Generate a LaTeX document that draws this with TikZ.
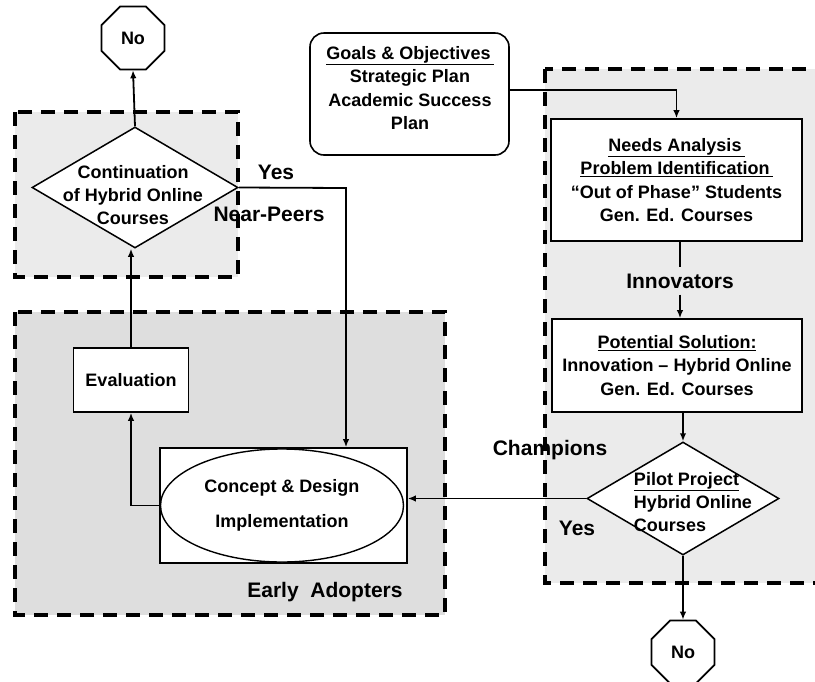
\documentclass[tikz,border=0pt]{standalone}
\usepackage{fontspec}
\setmainfont{Liberation Sans}
\usetikzlibrary{shapes.geometric,arrows.meta}
\begin{document}
\begin{tikzpicture}[x=1pt,y=-1pt,
  every node/.style={font=\bfseries\fontsize{18}{23.3}\selectfont},
  zone/.style={line width=4.5pt, dash pattern=on 14pt off 9pt},
  box/.style={draw, line width=1.6pt, fill=white, inner sep=0pt, align=center},
  dia/.style={draw, diamond, line width=1.5pt, fill=white, inner sep=0pt},
  octo/.style={draw, regular polygon, regular polygon sides=8, minimum size=68pt, line width=1.8pt, fill=white, inner sep=0pt},
  txt/.style={inner sep=0pt, align=center},
  lbl/.style={font=\bfseries\fontsize{21}{25}\selectfont, inner sep=0pt},
  conn/.style={line width=1.8pt, -{Latex[length=8pt,width=6.5pt]}},
  plain/.style={line width=1.8pt}
]
\path[use as bounding box] (0,0) rectangle (815,681);

% zones
\fill[black!8] (15,112) rectangle (238,277);
\draw[zone] (15,112) rectangle (238,277);
\fill[black!13] (15,312) rectangle (445,615);
\draw[zone] (15,312) rectangle (445,615);
\fill[black!8] (545,69) rectangle (840,583);
\draw[zone] (545,69) rectangle (840,583);

% nodes
\node[octo] (no1) at (133,38) {No};
\node[dia, minimum width=206pt, minimum height=121pt] (d1) at (135,187.5) {};
\node[txt] (d1t) at (133,195) {Continuation\\of Hybrid Online\\Courses};

\node[box, minimum width=115pt, minimum height=64pt] (eval) at (131,380) {Evaluation};
\node[box, minimum width=247pt, minimum height=115pt] (cd) at (283.5,505.5) {};
\node[draw, ellipse, line width=1.4pt, fill=white, minimum width=243pt, minimum height=113pt, inner sep=0pt, align=center] (ce) at (282,505.5) {Concept \& Design\\[12pt]Implementation};

\node[box, rounded corners=14pt, minimum width=199pt, minimum height=122pt] (goals) at (409.5,94) {};
\node[txt] (goalst) at (410,88) {\underline{Goals \& Objectives\,}\\Strategic Plan\\Academic Success\\Plan};

\node[box, minimum width=251pt, minimum height=122pt] (needs) at (676.5,180) {\underline{Needs Analysis\,}\\\underline{Problem Identification\,}\\``Out of Phase'' Students\\Gen. Ed. Courses};
\node[lbl, inner sep=6pt] (inn) at (680,281) {Innovators};
\node[box, minimum width=250pt, minimum height=93pt] (pot) at (677,365.5) {\underline{Potential Solution:}\\Innovation -- Hybrid Online\\Gen. Ed. Courses};

\node[dia, minimum width=192pt, minimum height=113pt] (pilot) at (683,498.5) {};
\node[txt, align=left] (pilott) at (693,502) {\underline{Pilot Project}\\Hybrid Online\\Courses};
\node[octo] (no2) at (683,652) {No};

% labels
\node[lbl] (yes1) at (276,172) {Yes};
\node[lbl] (np) at (269,214) {Near-Peers};
\node[lbl] (ea) at (325,592) {Early\ \ Adopters};
\node[lbl] (ch) at (550,450) {Champions};
\node[lbl] (yes2) at (577,528) {Yes};

% connectors
\coordinate (c1) at (346,188);
\draw[conn] (d1.north) -- (no1.south);
\draw[conn] (d1.east) -- (c1) -- (c1 |- cd.north);
\draw[conn] (eval.north) -- (eval.north |- d1.south);
\draw[conn] (ce.west) -| (eval.south);
\draw[conn] ([yshift=4pt]goals.east) -| (needs.north);
\draw[plain] (needs.south -| inn.north) -- (inn.north);
\draw[conn] (inn.south) -- (inn.south |- pot.north);
\draw[conn] (pot.south -| pilot.north) -- (pilot.north);
\draw[conn] (pilot.west) -- (pilot.west -| cd.east);
\draw[conn] (pilot.south) -- (no2.north);
\end{tikzpicture}
\end{document}
